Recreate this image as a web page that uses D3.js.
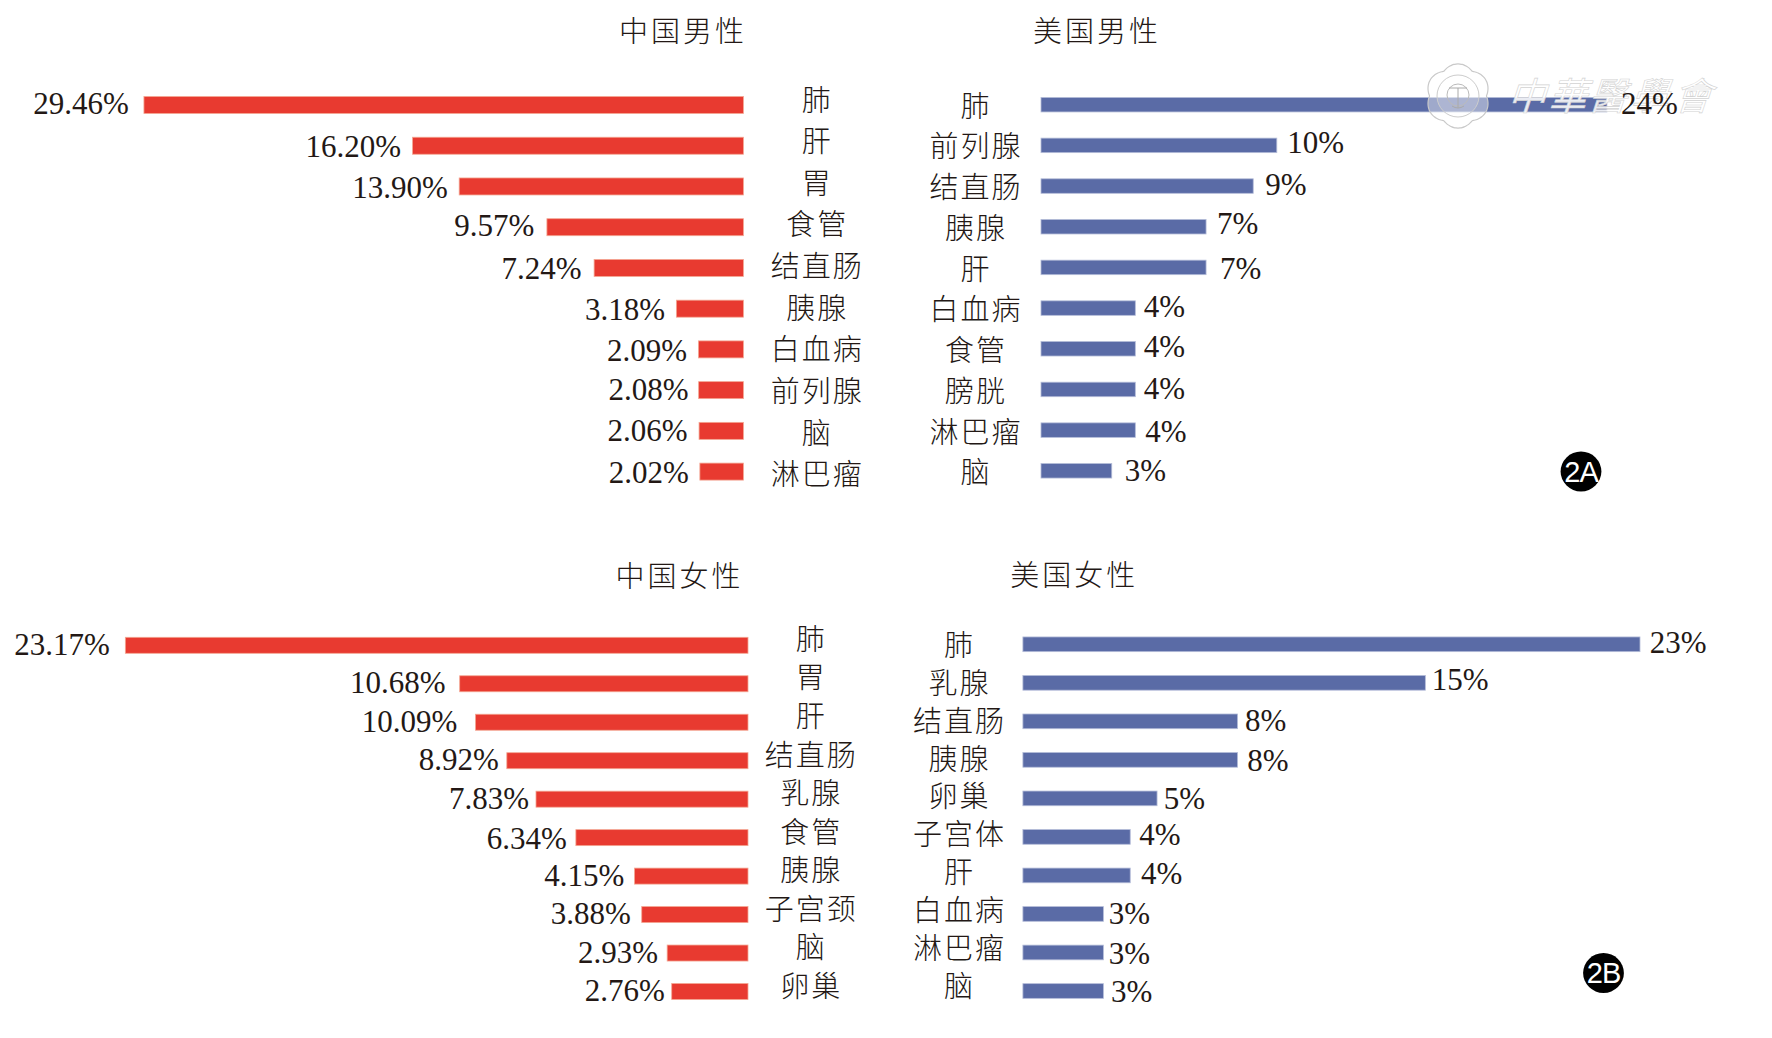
<!DOCTYPE html>
<html lang="zh">
<head>
<meta charset="utf-8">
<script src="https://cdn.jsdelivr.net/npm/d3@7/dist/d3.min.js"></script>
<style>
html,body{margin:0;padding:0;background:#fff;}
svg{display:block;}
.num{font-family:"Liberation Serif","Times New Roman",serif;font-size:31px;fill:#231815;}
.cat{font-family:"Noto Sans CJK SC",sans-serif;font-weight:300;font-size:29px;letter-spacing:2px;fill:#231815;}
.ttl{letter-spacing:3px;}
.badge{font-family:"Liberation Sans",Arial,sans-serif;font-size:29px;letter-spacing:-1px;fill:#fff;}
</style>
</head>
<body>
<svg id="chart" width="1772" height="1038" viewBox="0 0 1772 1038"></svg>
<script>
// ---- data ----
const titleCnMale = "中国男性";
const catsCnMale = ["肺","肝","胃","食管","结直肠","胰腺","白血病","前列腺","脑","淋巴瘤"];
const valsCnMale = [29.46,16.20,13.90,9.57,7.24,3.18,2.09,2.08,2.06,2.02];

const titleUsMale = "美国男性";
const catsUsMale = ["肺","前列腺","结直肠","胰腺","肝","白血病","食管","膀胱","淋巴瘤","脑"];
const valsUsMale = [24,10,9,7,7,4,4,4,4,3];

const titleCnFemale = "中国女性";
const catsCnFemale = ["肺","胃","肝","结直肠","乳腺","食管","胰腺","子宫颈","脑","卵巢"];
const valsCnFemale = [23.17,10.68,10.09,8.92,7.83,6.34,4.15,3.88,2.93,2.76];

const titleUsFemale = "美国女性";
const catsUsFemale = ["肺","乳腺","结直肠","胰腺","卵巢","子宫体","肝","白血病","淋巴瘤","脑"];
const valsUsFemale = [23,15,8,8,5,4,4,3,3,3];

const badgeTop = "2A";
const badgeBottom = "2B";
const watermarkText = "中華醫學會";

// ---- layout (separate from the data) ----
const RED = "#e83a30", BLUE = "#5a6ba6";
const panels = [
  {title:titleCnMale, cats:catsCnMale, vals:valsCnMale, dec:2, dir:-1, color:RED, edge:"#f4a692",
   x0:743.4, stub:2.6, pxPerUnit:20.26, barY:[105,471.6], barH:17, catX:816.3, catY:[100,474.8], titleX:681.5, titleY:31,
   gap:[15,11.4,11.4,12.5,12.5,11.4,11.4,10,11.4,11],
   dy:[-1.7,.3,1,-1.6,.4,.6,1,-.7,-.3,.7]},
  {title:titleUsMale, cats:catsUsMale, vals:valsUsMale, dec:0, dir:1, color:BLUE, edge:"#b4bcd8",
   x0:1041, stub:0, pxPerUnit:23.58, barY:[104.7,470.8], barH:14.5, catX:975, catY:[106.2,472.8], titleX:1095.4, titleY:31,
   gap:[14,10.5,12,11,14,8.5,8.5,8.5,10,13],
   dy:[-1.3,-3,-1.7,-3.7,.7,-1.7,-2,-.7,1.3,-.7]},
  {title:titleCnFemale, cats:catsCnFemale, vals:valsCnFemale, dec:2, dir:-1, color:RED, edge:"#f4a692",
   x0:748, stub:2.4, pxPerUnit:26.77, barY:[645.3,991.5], barH:16, catX:810.3, catY:[639.3,986.5], titleX:678, titleY:576,
   gap:[15.4,14.2,18.2,8,6.8,9,10.2,10.8,9,6.8],
   dy:[-1,-1.3,-.7,-1.7,-1,.7,-1,-.7,-.7,-.7]},
  {title:titleUsFemale, cats:catsUsFemale, vals:valsUsFemale, dec:0, dir:1, color:BLUE, edge:"#b4bcd8",
   x0:1022.9, stub:0, pxPerUnit:26.83, barY:[644.3,991], barH:14.7, catX:958.6, catY:[645.3,986.5], titleX:1072.7, titleY:575,
   gap:[9.8,6.5,7.5,9.8,6.8,9,10.8,5.3,5.3,7.5],
   dy:[-2.3,-3,-1.3,.7,0,-2,-1.7,0,1,.7]}
];

const svg = d3.select("#chart");
const marks = svg.append("g");
const overlay = svg.append("g");
const texts = svg.append("g");

panels.forEach(p => {
  const maxV = d3.max(p.vals);
  // zero of the value scale sits a small stub inside the baseline, as in the reference
  const zero = p.x0 + p.dir * p.stub;
  const x = d3.scaleLinear().domain([0, maxV]).range([zero, zero + p.dir * maxV * p.pxPerUnit]);
  const yBar = d3.scalePoint().domain(p.cats).range(p.barY);
  const yCat = d3.scalePoint().domain(p.cats).range(p.catY);
  const rows = p.cats.map((c,i) => ({c, v:p.vals[i], i}));
  const fmt = d3.format("." + p.dec + "f");

  marks.append("g").selectAll("rect").data(rows).join("rect")
    .attr("x", d => Math.min(p.x0, x(d.v)))
    .attr("y", d => yBar(d.c) - p.barH/2)
    .attr("width", d => Math.abs(x(d.v) - p.x0))
    .attr("height", p.barH)
    .attr("fill", p.color)
    .attr("stroke", p.edge).attr("stroke-width", .8);

  texts.append("g").selectAll("text").data(rows).join("text")
    .attr("class","num")
    .attr("text-anchor", p.dir < 0 ? "end" : "start")
    .attr("x", d => x(d.v) + p.dir * p.gap[d.i])
    .attr("y", d => yBar(d.c) + p.dy[d.i] + 10.5)
    .text(d => fmt(d.v) + "%");

  texts.append("g").selectAll("text").data(rows).join("text")
    .attr("class","cat")
    .attr("text-anchor","middle")
    .attr("x", p.catX + 1)
    .attr("y", d => yCat(d.c) + 10.5)
    .text(d => d.c);

  texts.append("text").attr("class","cat ttl")
    .attr("text-anchor","middle")
    .attr("x", p.titleX + 1.5).attr("y", p.titleY + 10.5)
    .text(p.title);
});

// panel badges
[[badgeTop,1581,471.5,20.4],[badgeBottom,1603.5,973,20.4]].forEach(([t,cx,cy,r]) => {
  const g = texts.append("g");
  g.append("ellipse").attr("cx",cx).attr("cy",cy).attr("rx",r).attr("ry",r-.5).attr("fill","#000");
  g.append("text").attr("class","badge").attr("text-anchor","middle")
    .attr("x",cx).attr("y",cy+10.3).text(t);
});

// watermark: seal outline and calligraphic name, partly washing out the top bar
const seal = overlay.append("g").attr("transform","translate(1458,96)");
const petals = d3.range(0, Math.PI*2, Math.PI/48).map(a => [a, 28.5 + 3.6*Math.abs(Math.cos(a*3))]);
seal.append("path")
  .attr("d", d3.lineRadial().curve(d3.curveCardinalClosed)(petals))
  .attr("fill","#fff").attr("fill-opacity",.42).attr("stroke","#c9c9c9").attr("stroke-width",1.2);
seal.append("circle").attr("r",21).attr("fill","#fff").attr("fill-opacity",.15)
  .attr("stroke","#ccc").attr("stroke-width",1);
seal.append("circle").attr("r",11).attr("cy",-1).attr("fill","none").attr("stroke","#bbb").attr("stroke-width",1);
seal.append("path").attr("d","M-9,-8 L9,-8 M0,-8 L0,12 M-6,10 Q0,14 6,10")
  .attr("fill","none").attr("stroke","#aaa").attr("stroke-width",1);

overlay.selectAll("text.wm").data(Array.from(watermarkText)).join("text")
  .attr("class","wm")
  .attr("transform",(d,i)=>`translate(${[1526,1567,1607,1649,1692][i]},${110}) skewX(-18)`)
  .attr("text-anchor","middle")
  .style("font-family",'"Noto Sans CJK TC",sans-serif')
  .style("font-size","38px")
  .attr("fill","#fff").attr("fill-opacity",.9)
  .attr("stroke","#d2d2d2").attr("stroke-width",.6)
  .text(d=>d);
</script>
</body>
</html>
